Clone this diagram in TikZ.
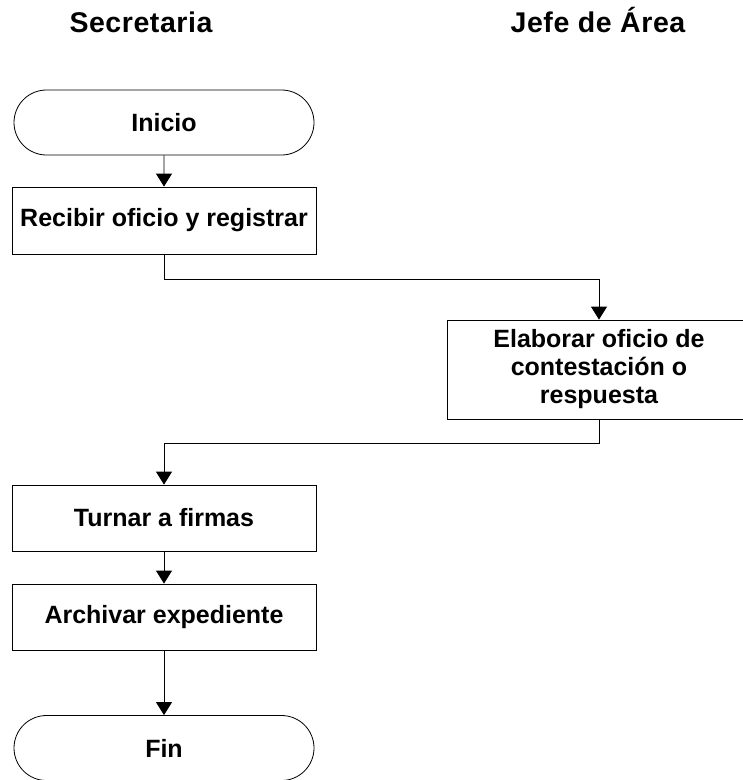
\documentclass[tikz,border=0pt]{standalone}
\usepackage{fontspec}
\setmainfont{Liberation Sans}
\newfontfamily\headfont[LetterSpace=2]{Liberation Sans}
\usetikzlibrary{arrows.meta,shapes.misc}

\begin{document}
\begin{tikzpicture}[
 x=1pt,y=-1pt,
 font=\fontsize{25}{28}\selectfont\bfseries,
 head/.style={anchor=base,font=\headfont\fontsize{28.5}{30}\selectfont\bfseries},
 box/.style={draw=black,line width=0.8pt,minimum width=304pt,align=center,inner sep=2pt},
 term/.style={box,rounded rectangle,minimum height=65pt},
 arr/.style={-{Triangle[length=13pt,width=16pt]},line width=0.8pt}]
\useasboundingbox (0,0) rectangle (743,780);
\node[head] (sec) at (141,32) {Secretaria};
\node[head] (jefe) at (598,32) {Jefe de Área};
\node[term] (inicio) at (164,122.5) {Inicio};
\node[box,minimum height=67pt] (recibir) at (164,220.5) {Recibir oficio y registrar};
\node[box,minimum height=99pt] (elaborar) at (599,369.5) {Elaborar oficio de\\contestación o\\respuesta};
\node[box,minimum height=66pt] (turnar) at (164,518) {Turnar a firmas};
\node[box,minimum height=66pt] (archivar) at (164,617) {Archivar expediente};
\node[term] (fin) at (164,748) {Fin};
\draw[arr] (inicio) -- (recibir);
\draw[arr] (recibir.south) -- ++(0,25) -| (elaborar.north);
\draw[arr] (elaborar.south) -- ++(0,24) -| (turnar.north);
\draw[arr] (turnar) -- (archivar);
\draw[arr] (archivar) -- (fin);
\end{tikzpicture}
\end{document}
